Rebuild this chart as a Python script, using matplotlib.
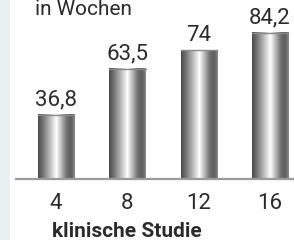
import numpy as np
import matplotlib
matplotlib.use("Agg")
import matplotlib.pyplot as plt
from matplotlib.colors import LinearSegmentedColormap
from matplotlib.patches import Rectangle

# data
studies = ["4", "8", "12", "16"]
weeks = [36.8, 63.5, 74, 84.2]
value_labels = ["36,8", "63,5", "74", "84,2"]

plt.rcParams["font.family"] = ["Roboto", "DejaVu Sans"]
text_col = "#2b2b2b"

fig = plt.figure(figsize=(2.94, 2.4), dpi=100)
fig.patch.set_facecolor("white")

# light strip on the left edge
fig.patches.append(Rectangle((0, 0), 10 / 294, 1, transform=fig.transFigure,
                             facecolor="#e8f0f0", edgecolor="none", zorder=0))

ax = fig.add_axes([16 / 294, 61 / 240, 278 / 294, 179 / 240])
ax.patch.set_alpha(0)

# metallic gradient
metal = LinearSegmentedColormap.from_list("metal", [
    (0.0, "#4a4a4a"), (0.15, "#7a7a7a"), (0.5, "#ffffff"),
    (0.78, "#707070"), (0.9, "#5c5c5c"), (1.0, "#8a8a8a")])
grad = np.linspace(0, 1, 200).reshape(1, -1)

x = np.arange(len(studies))
width = 0.51
for xi, val, lab in zip(x, weeks, value_labels):
    ax.imshow(grad, cmap=metal, aspect="auto", interpolation="bilinear",
              extent=[xi - width / 2, xi + width / 2, 0, val], zorder=2)
    ax.plot([xi - width / 2, xi + width / 2], [val, val], color="#8a8a8a", lw=1, zorder=3)
    ax.annotate(lab, (xi, val), xytext=(0, 3), textcoords="offset points",
                ha="center", va="bottom", fontsize=16, color=text_col)

ax.set_xlim(-0.561, 3.336)
ax.set_ylim(0, 102.9)

for s in ["top", "right", "left"]:
    ax.spines[s].set_visible(False)
ax.spines["bottom"].set_color("#9a9a9a")
ax.spines["bottom"].set_linewidth(1.6)
ax.set_yticks([])
ax.set_xticks(x)
ax.set_xticklabels(studies, fontsize=16, color=text_col)
ax.tick_params(axis="x", length=0, pad=10)

fig.text(127 / 294, 3 / 240, "klinische Studie", ha="center", va="baseline",
         fontsize=15, fontweight="bold", color=text_col)
fig.text(35 / 294, 225 / 240, "in Wochen", ha="left", va="baseline",
         fontsize=15, color=text_col)

fig.savefig("out.png", dpi=100)
